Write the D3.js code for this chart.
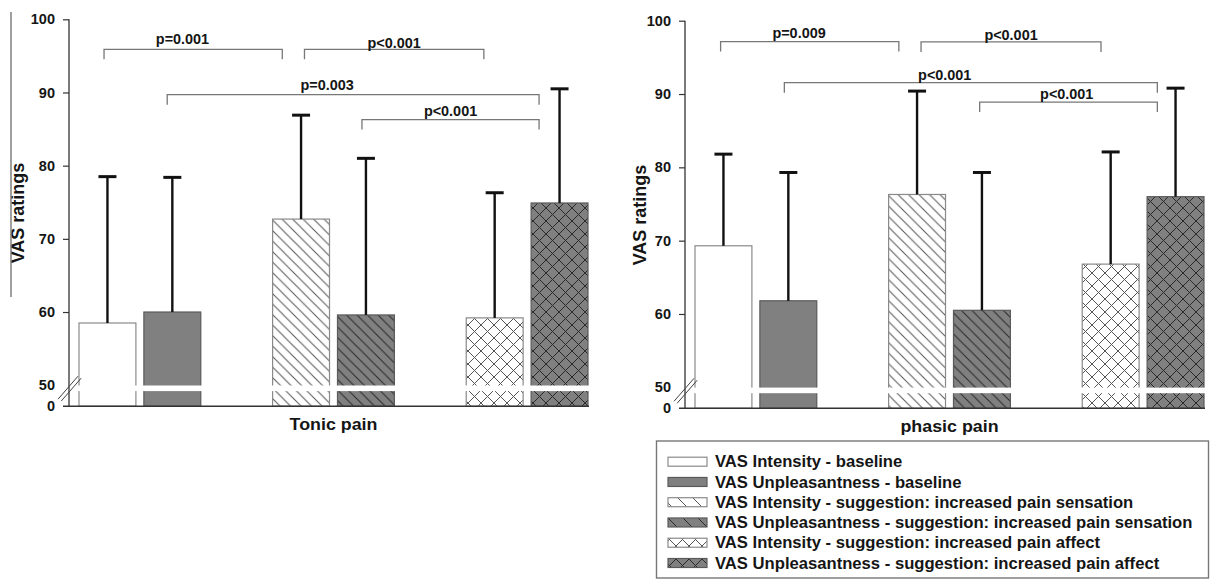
<!DOCTYPE html>
<html><head><meta charset="utf-8">
<script src="https://cdn.jsdelivr.net/npm/d3@7"></script>
<style>
body{margin:0;background:#fff}
svg{display:block}
text{font-family:"Liberation Sans",Arial,sans-serif}
</style>
</head><body>
<svg id="c" width="1214" height="579"></svg>
<script>
// ---------------- data ----------------
const categories = ["baseline", "suggestion: increased pain sensation", "suggestion: increased pain affect"];
const measures = ["VAS Intensity", "VAS Unpleasantness"];

const tonicIntensity      = [58.5, 72.7, 59.2];
const tonicIntensitySD    = [20.0, 14.2, 17.1];
const tonicUnpleasant     = [60.0, 59.6, 74.9];
const tonicUnpleasantSD   = [18.4, 21.4, 15.6];

const phasicIntensity     = [69.3, 76.3, 66.8];
const phasicIntensitySD   = [12.5, 14.1, 15.3];
const phasicUnpleasant    = [61.8, 60.5, 76.0];
const phasicUnpleasantSD  = [17.5, 18.8, 14.8];

const yTicks = [60, 70, 80, 90, 100];
const breakLabels = ["50", "0"];

// significance brackets: pairs of bar indices (category*2 + measure)
const tonicPairs   = [[0, 2], [2, 4], [1, 5], [3, 5]];
const tonicP       = ["p=0.001", "p<0.001", "p=0.003", "p<0.001"];
const tonicLevels  = [95.9, 95.9, 89.7, 86.3];
const phasicPairs  = [[0, 2], [2, 4], [1, 5], [3, 5]];
const phasicP      = ["p=0.009", "p<0.001", "p<0.001", "p<0.001"];
const phasicLevels = [97.15, 97.1, 91.55, 88.9];

const legendLabels = [
  "VAS Intensity - baseline",
  "VAS Unpleasantness - baseline",
  "VAS Intensity - suggestion: increased pain sensation",
  "VAS Unpleasantness - suggestion: increased pain sensation",
  "VAS Intensity - suggestion: increased pain affect",
  "VAS Unpleasantness - suggestion: increased pain affect"
];
const panelTitles = ["Tonic pain", "phasic pain"];
const yTitle = "VAS ratings";

// ---------------- layout / style ----------------
const panels = [
  {axisX: 69, x0: 79, x1: 588, yTop: 19.3, y50: 385.2, titleY: 429.5, yLabelX: 24, yLabelY: 213,
   endFrac: [[0.44, 0.17], [0.56, 0.31], [0.41, 0.14], [0.43, 0.14]],
   labelFrac: [0.44, 0.5, 0.43, 0.5], labelGap: [5.5, 1.8, 5, 3.2]},
  {axisX: 685, x0: 695, x1: 1204, yTop: 20.7, y50: 387.3, titleY: 431.5, yLabelX: 646, yLabelY: 215,
   endFrac: [[0.45, 0.18], [0.57, 0.33], [0.43, 0.18], [0.46, 0.18]],
   labelFrac: [0.44, 0.5, 0.43, 0.49], labelGap: [3.4, 2.4, 2.7, 3]}
];
const breakDepth = 21;
const dark = "#808080";
const textCol = "#151515";

const svg = d3.select("#c");
const defs = svg.append("defs");
function hatch(id, bg, stroke, period, cross, sw) {
  const p = defs.append("pattern").attr("id", id).attr("patternUnits", "userSpaceOnUse")
    .attr("width", period).attr("height", period);
  p.append("rect").attr("width", period).attr("height", period).attr("fill", bg);
  const q = period;
  let d = `M0,0L${q},${q}M-1,${q-1}L1,${q+1}M${q-1},-1L${q+1},1`;
  if (cross) d += `M0,${q}L${q},0M-1,1L1,-1M${q-1},${q+1}L${q+1},${q-1}`;
  p.append("path").attr("d", d).attr("stroke", stroke).attr("stroke-width", sw).attr("fill", "none");
}
hatch("hw", "#fff", "#555", 10.5, false, 1);
hatch("hd", dark, "#2a2a2a", 10.5, false, 1);
hatch("cw", "#fff", "#555", 13, true, 1);
hatch("cd", dark, "#2a2a2a", 13, true, 1);
hatch("lhw", "#fff", "#555", 15, false, 1);
hatch("lhd", dark, "#2a2a2a", 15, false, 1);
hatch("lcw", "#fff", "#555", 13, true, 1);
hatch("lcd", dark, "#2a2a2a", 13, true, 1);

const barFill   = ["#fff", dark, "url(#hw)", "url(#hd)", "url(#cw)", "url(#cd)"];
const legFill   = ["#fff", dark, "url(#lhw)", "url(#lhd)", "url(#lcw)", "url(#lcd)"];
const barStroke = ["#8a8a8a", "#5a5a5a", "#8a8a8a", "#5a5a5a", "#8a8a8a", "#5a5a5a"];

function stretchedText(g, x, y, str, size, weight, sx, anchor) {
  return g.append("text")
    .attr("transform", `translate(${x},${y}) scale(${sx},1)`)
    .attr("text-anchor", anchor)
    .attr("font-size", size).attr("font-weight", weight)
    .attr("fill", textCol).text(str);
}

function drawPanel(cfg, inten, intenSD, unp, unpSD, pairs, pLabels, levels, title, showSideLine) {
  const g = svg.append("g");
  const xg = d3.scaleBand().domain(categories).range([cfg.x0, cfg.x1]).paddingInner(0.371).paddingOuter(0);
  const xm = d3.scaleBand().domain(measures).range([0, xg.bandwidth()]).paddingInner(0.123);
  const y = d3.scaleLinear().domain([50, 100]).range([cfg.y50, cfg.yTop]);
  const baseY = cfg.y50 + breakDepth;
  const bw = xm.bandwidth();

  const bars = [];
  categories.forEach((c, i) => {
    bars.push({cat: c, m: measures[0], v: inten[i], sd: intenSD[i], idx: i * 2});
    bars.push({cat: c, m: measures[1], v: unp[i], sd: unpSD[i], idx: i * 2 + 1});
  });
  const bx = d => xg(d.cat) + xm(d.m);

  // bars
  g.selectAll("rect.bar").data(bars).join("rect").attr("class", "bar")
    .attr("x", d => bx(d)).attr("width", bw)
    .attr("y", d => y(d.v)).attr("height", d => baseY - y(d.v))
    .attr("fill", d => barFill[d.idx]).attr("stroke", d => barStroke[d.idx]).attr("stroke-width", 1.2);

  // axis break band
  g.selectAll("rect.brk").data(bars).join("rect").attr("class", "brk")
    .attr("x", d => bx(d) - 1.5).attr("width", bw + 3)
    .attr("y", y(50) + 0.3).attr("height", 5.6).attr("fill", "#fff");

  // error bars
  g.selectAll("line.err").data(bars).join("line").attr("class", "err")
    .attr("x1", d => bx(d) + bw / 2).attr("x2", d => bx(d) + bw / 2)
    .attr("y1", d => y(d.v)).attr("y2", d => y(d.v + d.sd))
    .attr("stroke", "#111").attr("stroke-width", 2.4);
  g.selectAll("line.cap").data(bars).join("line").attr("class", "cap")
    .attr("x1", d => bx(d) + bw / 2 - 9).attr("x2", d => bx(d) + bw / 2 + 9)
    .attr("y1", d => y(d.v + d.sd)).attr("y2", d => y(d.v + d.sd))
    .attr("stroke", "#111").attr("stroke-width", 3);

  // y axis
  const ax = g.append("g").attr("transform", `translate(${cfg.axisX},0)`)
    .call(d3.axisLeft(y).tickValues(yTicks).tickSize(6).tickSizeOuter(0).tickPadding(8));
  ax.select(".domain").remove();
  ax.selectAll(".tick line").attr("stroke", "#333").attr("stroke-width", 1.2);
  ax.selectAll(".tick text").attr("font-size", 14.5).attr("font-weight", "bold")
    .attr("fill", textCol).attr("font-family", '"Liberation Sans",Arial,sans-serif');
  g.append("line").attr("x1", cfg.axisX).attr("x2", cfg.axisX)
    .attr("y1", y(100)).attr("y2", baseY).attr("stroke", "#333").attr("stroke-width", 1.3);
  // break labels
  [y(50), baseY].forEach((yy, i) => {
    g.append("text").attr("x", cfg.axisX - 14).attr("y", yy).attr("dy", "0.32em")
      .attr("text-anchor", "end").attr("font-size", 14.5).attr("font-weight", "bold")
      .attr("fill", textCol).text(breakLabels[i]);
  });
  // break slashes
  [0, 3.2].forEach(o => {
    g.append("line")
      .attr("x1", cfg.axisX - 11 + o).attr("y1", y(50) + 14 + o * 0.6)
      .attr("x2", cfg.axisX + 9 + o).attr("y2", y(50) - 9 + o * 0.6)
      .attr("stroke", "#444").attr("stroke-width", 1);
  });
  // x baseline
  g.append("line").attr("x1", cfg.axisX - 6).attr("x2", cfg.x1 + 1)
    .attr("y1", baseY).attr("y2", baseY).attr("stroke", "#333").attr("stroke-width", 1.5);

  // significance brackets
  pairs.forEach((pr, i) => {
    const a = bars[pr[0]], b = bars[pr[1]];
    const xa = bx(a) + cfg.endFrac[i][0] * bw;
    const xb = bx(b) + cfg.endFrac[i][1] * bw;
    const yl = y(levels[i]);
    g.append("path").attr("d", `M${xa},${yl + 10}V${yl}H${xb}V${yl + 10}`)
      .attr("fill", "none").attr("stroke", "#777").attr("stroke-width", 1.3);
    stretchedText(g, xa + cfg.labelFrac[i] * (xb - xa), yl - cfg.labelGap[i], pLabels[i], 14, "bold", 1.03, "middle");
  });

  // titles
  stretchedText(g, (cfg.x0 + cfg.x1) / 2, cfg.titleY, title, 17, "bold", 1.05, "middle");
  g.append("text").attr("transform", `translate(${cfg.yLabelX},${cfg.yLabelY}) rotate(-90)`)
    .attr("text-anchor", "middle").attr("font-size", 18).attr("font-weight", "bold")
    .attr("fill", textCol).text(yTitle);
  if (showSideLine) {
    g.append("line").attr("x1", 11).attr("x2", 11).attr("y1", 12).attr("y2", 297)
      .attr("stroke", "#777").attr("stroke-width", 1.4);
  }
}

drawPanel(panels[0], tonicIntensity, tonicIntensitySD, tonicUnpleasant, tonicUnpleasantSD,
          tonicPairs, tonicP, tonicLevels, panelTitles[0], true);
drawPanel(panels[1], phasicIntensity, phasicIntensitySD, phasicUnpleasant, phasicUnpleasantSD,
          phasicPairs, phasicP, phasicLevels, panelTitles[1], false);

// legend
const leg = svg.append("g");
leg.append("rect").attr("x", 656.5).attr("y", 441).attr("width", 552).attr("height", 137)
  .attr("fill", "#fff").attr("stroke", "#777").attr("stroke-width", 1.4);
const rowY = d3.scalePoint().domain(d3.range(legendLabels.length)).range([461.7, 563]);
legendLabels.forEach((lab, i) => {
  const cy = rowY(i);
  leg.append("rect").attr("x", 668).attr("y", cy - 4.5).attr("width", 39).attr("height", 9)
    .attr("fill", legFill[i]).attr("stroke", barStroke[i]).attr("stroke-width", 1.2);
  stretchedText(leg, 715, cy + 5.6, lab, 16, "bold", 1.04, "start");
});
</script>
</body></html>
